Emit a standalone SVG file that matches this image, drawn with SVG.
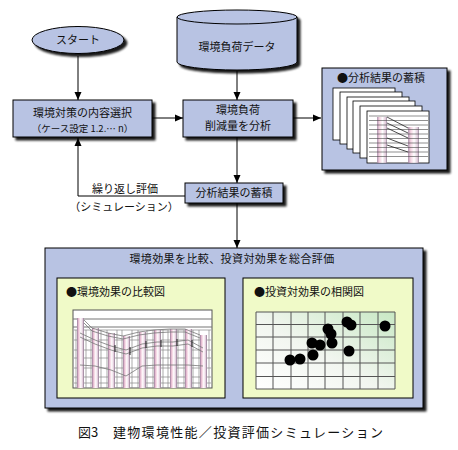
<svg xmlns="http://www.w3.org/2000/svg" width="458" height="450" viewBox="0 0 458 450">
<defs>
<style>
.bx{fill:#b8c3e3;stroke:#000;stroke-width:1}
.in{fill:#f0fac8;stroke:#000;stroke-width:1}
.t{font-family:"Noto Sans CJK JP","Noto Sans",sans-serif;font-size:11px;fill:#111;text-anchor:middle}
.tl{font-family:"Noto Sans CJK JP","Noto Sans",sans-serif;font-size:11px;fill:#111}
.ln{fill:none;stroke:#000;stroke-width:1}
.sheet{fill:#fff;stroke:#000;stroke-width:0.8}
.g{stroke:#555;stroke-width:1;fill:none}
.gl{stroke:#888;stroke-width:0.7;fill:none}
.wv{stroke:#777;stroke-width:0.8;fill:none}
</style>
<filter id="sh" x="-10%" y="-10%" width="130%" height="150%">
<feGaussianBlur in="SourceAlpha" stdDeviation="1.2"/>
<feOffset dx="3" dy="3"/>
<feComponentTransfer><feFuncA type="linear" slope="0.9"/></feComponentTransfer>
<feMerge><feMergeNode/><feMergeNode in="SourceGraphic"/></feMerge>
</filter>
<marker id="ar" markerWidth="8" markerHeight="8" refX="8" refY="4" orient="auto" markerUnits="userSpaceOnUse">
<path d="M0,0.5 L8,4 L0,7.5 z" fill="#000"/>
</marker>
<linearGradient id="bar" x1="0" y1="0" x2="1" y2="0">
<stop offset="0" stop-color="#9a7a9a"/>
<stop offset="0.25" stop-color="#f2c8da"/>
<stop offset="0.55" stop-color="#ffffff"/>
<stop offset="0.85" stop-color="#dcc0d4"/>
<stop offset="1" stop-color="#7a6a80"/>
</linearGradient>
<linearGradient id="grn" x1="0" y1="1" x2="1" y2="0">
<stop offset="0" stop-color="#ffffff"/>
<stop offset="0.45" stop-color="#f2f6f0"/>
<stop offset="1" stop-color="#c8e8c4"/>
</linearGradient>
</defs>

<g id="start">
<ellipse cx="78" cy="40" rx="46" ry="13.5" class="bx" filter="url(#sh)"/>
<text x="78" y="44" class="t">スタート</text>
</g>

<g id="data">
<g filter="url(#sh)">
<path d="M177,17 L177,62 A60,8 0 0 0 297,62 L297,17 A60,7 0 0 0 177,17 z" class="bx"/>
</g>
<path d="M177,17 A60,7 0 0 0 297,17" class="ln"/>
<text x="237" y="51" class="t">環境負荷データ</text>
</g>

<g id="select">
<rect x="13" y="100" width="139" height="37" class="bx" filter="url(#sh)"/>
<text x="82.5" y="116.5" class="t">環境対策の内容選択</text>
<text x="82.5" y="132" class="t" style="font-size:9.5px">（ケース設定 1.2.… n）</text>
</g>

<g id="analyze">
<rect x="183" y="100" width="110" height="37" class="bx" filter="url(#sh)"/>
<text x="238" y="114" class="t">環境負荷</text>
<text x="238" y="130" class="t">削減量を分析</text>
</g>

<g id="store-panel">
<rect x="322" y="68" width="125" height="102" class="bx" filter="url(#sh)"/>
<text x="381" y="82" class="t">●分析結果の蓄積</text>
<rect x="333" y="88" width="62" height="52" class="sheet"/>
<rect x="340" y="92" width="62" height="52" class="sheet"/>
<rect x="347" y="97" width="62" height="52" class="sheet"/>
<rect x="353" y="101" width="62" height="52" class="sheet"/>
<rect x="360" y="106" width="62" height="52" class="sheet"/>
<rect x="367" y="111" width="62" height="52" class="sheet"/>
<rect x="377" y="117" width="10" height="46" fill="url(#bar)" opacity="0.8"/>
<rect x="408" y="127" width="11" height="36" fill="url(#bar)" opacity="0.8"/>
<g class="gl" style="stroke:#444;stroke-width:0.6">
<path d="M369,116H428M369,120.5H428M369,125H428M369,129.5H428M369,134H428M369,138.5H428M369,143H428M369,147.5H428M369,152H428M369,156.5H428"/>
</g>
<g style="stroke:#222;stroke-width:0.8;fill:none">
<path d="M387,117 L408,128"/>
<path d="M387,123 L408,133"/>
<path d="M387,128 L408,138"/>
<path d="M387,138 L408,146"/>
<path d="M387,145 L408,152"/>
</g>
</g>

<g id="store">
<rect x="185" y="183" width="98" height="20" class="bx" filter="url(#sh)"/>
<text x="234" y="197" class="t">分析結果の蓄積</text>
</g>

<g id="evaluate">
<rect x="45" y="248" width="378" height="160" class="bx" filter="url(#sh)"/>
<text x="232" y="263" class="t" style="letter-spacing:0.4px">環境効果を比較、投資対効果を総合評価</text>
<rect x="57" y="278" width="168" height="120" class="in"/>
<text x="66" y="296" class="tl">●環境効果の比較図</text>
<rect x="243" y="278" width="170" height="120" class="in"/>
<text x="254" y="296" class="tl">●投資対効果の相関図</text>

<g id="chart-left">
<rect x="73" y="310" width="139" height="78" fill="#fff" stroke="#555" stroke-width="1"/>
<path d="M73,319H212M73,327H212" stroke="#777" stroke-width="1.2"/>
<path class="gl" d="M74,330H211M74,340H211M74,350H211M74,358H211M74,368H211M74,377H211M74,383H211"/>
<path class="gl" d="M76,330V388M86,330V388M91,330V388M101,330V388M107,330V388M117,330V388M122,330V388M132,330V388M138,330V388M147,330V388M153,330V388M163,330V388M168,330V388M178,330V388M184,330V388M193,330V388M199,330V388M209,330V388"/>
<rect x="77" y="318" width="7" height="70" fill="url(#bar)"/>
<rect x="92" y="328" width="7" height="60" fill="url(#bar)"/>
<rect x="108" y="333" width="7" height="55" fill="url(#bar)"/>
<rect x="123" y="336" width="7" height="52" fill="url(#bar)"/>
<rect x="139" y="332" width="7" height="56" fill="url(#bar)"/>
<rect x="154" y="330" width="7" height="58" fill="url(#bar)"/>
<rect x="170" y="329" width="7" height="59" fill="url(#bar)"/>
<rect x="185" y="329" width="7" height="59" fill="url(#bar)"/>
<rect x="200" y="335" width="7" height="53" fill="url(#bar)"/>
<polyline class="wv" points="84,320 92,328 108,333 123,336 139,332 154,330 170,329 185,329 200,335"/>
<polyline class="wv" points="84,323 92,331 108,336 123,339 139,335 154,333 170,332 185,332 200,338"/>
<polyline class="wv" points="80,333 95,340 111,346 126,350 142,344 157,342 173,342 188,340 203,348"/>
<polyline class="wv" points="80,337 95,344 111,350 126,354 142,348 157,346 173,346 188,344 203,352"/>
<polyline class="wv" points="80,365 95,366 111,370 126,376 142,366 157,365 173,365 188,365 203,366"/>
<path d="M115,345V352M130,347V355M146,341V348M161,340V347M177,339V346M192,340V347" stroke="#222" stroke-width="1"/>
</g>

<g id="chart-right">
<rect x="256" y="312" width="139" height="77" fill="url(#grn)"/>
<path class="g" d="M256,312H395V389H256z M256,324.5H395M256,337H395M256,350H395M256,363H395M256,376.5H395 M273,312V389M291,312V389M308,312V389M325,312V389M343,312V389M360,312V389M378,312V389"/>
<g fill="#000">
<circle cx="290" cy="360" r="5.5"/>
<circle cx="300" cy="359" r="5.5"/>
<circle cx="312" cy="343" r="5.5"/>
<circle cx="320" cy="345" r="5.5"/>
<circle cx="313" cy="355" r="5.5"/>
<circle cx="332" cy="343" r="5.5"/>
<circle cx="328" cy="329" r="5.5"/>
<circle cx="331" cy="334" r="5.5"/>
<circle cx="347" cy="322" r="5.5"/>
<circle cx="351" cy="325" r="5.5"/>
<circle cx="349" cy="351" r="5.5"/>
<circle cx="385" cy="326" r="5.5"/>
</g>
</g>
</g>

<g id="connectors" class="ln">
<line x1="78" y1="56" x2="78" y2="100" marker-end="url(#ar)"/>
<line x1="237" y1="71" x2="237" y2="100" marker-end="url(#ar)"/>
<line x1="152" y1="118" x2="183" y2="118" marker-end="url(#ar)"/>
<line x1="293" y1="118" x2="321" y2="118" marker-end="url(#ar)"/>
<line x1="237" y1="137" x2="237" y2="183" marker-end="url(#ar)"/>
<line x1="237" y1="203" x2="237" y2="248" marker-end="url(#ar)"/>
<polyline points="185,196 78,196 78,138" marker-end="url(#ar)"/>
</g>

<g id="labels">
<text x="125" y="193" class="t">繰り返し評価</text>
<text x="124" y="211" class="t">（シミュレーション）</text>
<text x="78" y="437" class="tl" style="font-size:13px">図3</text>
<text x="113" y="437" class="tl" style="font-size:13px" textLength="270" lengthAdjust="spacing">建物環境性能／投資評価シミュレーション</text>
</g>
</svg>
